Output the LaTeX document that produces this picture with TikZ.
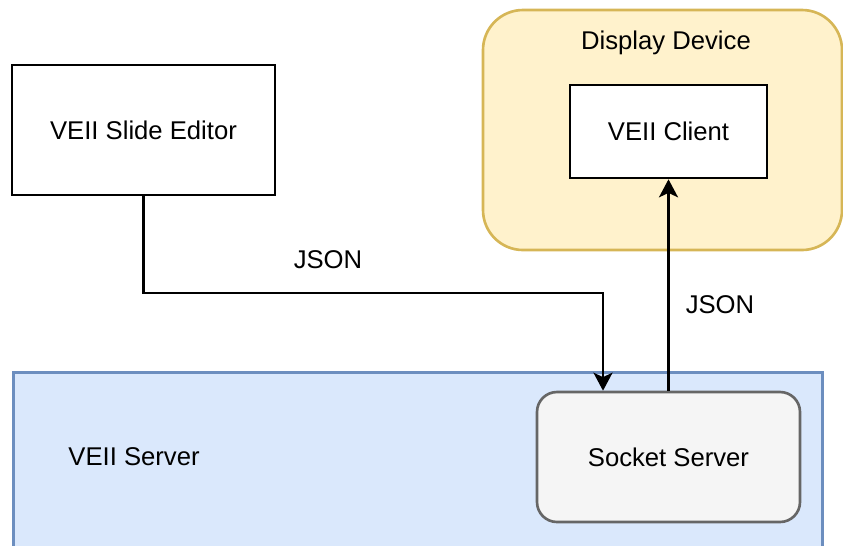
\documentclass[tikz,border=0pt]{standalone}
\usepackage{fontspec}
\setmainfont{Liberation Sans}
\usepackage{xcolor}
\usetikzlibrary{arrows.meta,positioning}

\definecolor{devfill}{HTML}{FFF2CC}
\definecolor{devline}{HTML}{D6B656}
\definecolor{srvfill}{HTML}{DAE8FC}
\definecolor{srvline}{HTML}{6C8EBF}
\definecolor{sockfill}{HTML}{F5F5F5}
\definecolor{sockline}{HTML}{666666}

\tikzset{
  box/.style={draw, rectangle, line width=1.5pt, fill=white, font=\fontsize{14.6}{17}\selectfont},
  txt/.style={font=\fontsize{14.6}{17}\selectfont},
  flowline/.style={draw=black, line width=1.6pt},
  tip/.tip={Stealth[length=0.36cm, width=0.38cm, inset=0.09cm]}
}

\begin{document}
\begin{tikzpicture}
        \useasboundingbox (0,0) rectangle (16.86,-10.9);
        % containers
        \node[draw=devline, fill=devfill, line width=1.5pt, rounded corners=0.8cm,
              minimum width=7.18cm, minimum height=4.8cm] (device) at (13.25,-2.6) {};
        \node[txt] (devlabel) at (13.32,-0.86) {Display Device};
        \node[draw=srvline, fill=srvfill, line width=1.5pt,
              minimum width=16.18cm, minimum height=3.6cm, anchor=north west] (server) at (0.24,-7.42) {};
        \node[txt] (srvlabel) at (2.68,-9.14) {VEII Server};
        % boxes
        \node[box, minimum width=5.26cm, minimum height=2.6cm] (editor) at (2.87,-2.6) {VEII Slide Editor};
        \node[box, minimum width=3.94cm, minimum height=1.86cm] (client) at (13.37,-2.63) {VEII Client};
        \node[box, draw=sockline, fill=sockfill, rounded corners=0.4cm,
              minimum width=5.26cm, minimum height=2.6cm] (socket) at (13.37,-9.14) {Socket Server};
        % connectors
        \coordinate (bend) at (12.06,-5.86);
        \draw[flowline, -tip] (editor.south) |- (bend) -- (bend |- socket.north);
        \draw[flowline, -tip] (socket.north) -- (client.south);
        \node[txt] (json1) at (6.56,-5.2) {JSON};
        \node[txt] (json2) at (14.4,-6.1) {JSON};
    \end{tikzpicture}
\end{document}
